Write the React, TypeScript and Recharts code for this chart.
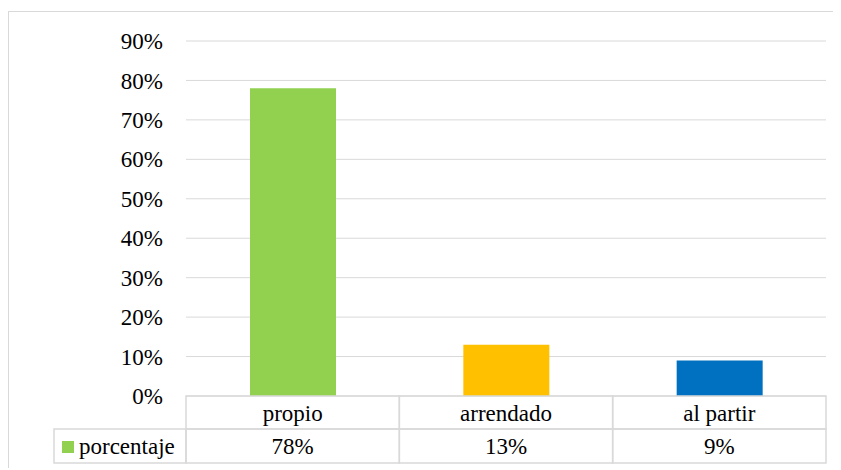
import React from "react";
import { BarChart, Bar, XAxis, YAxis, CartesianGrid, Cell } from "recharts";

const categories = ["propio", "arrendado", "al partir"];
const porcentaje = [0.78, 0.13, 0.09];
const valueLabels = ["78%", "13%", "9%"];
const yTicks = [0, 0.1, 0.2, 0.3, 0.4, 0.5, 0.6, 0.7, 0.8, 0.9];
const seriesName = "porcentaje";

const COLORS = ["#92D050", "#FFC000", "#0070C0"];
const GRID = "#d9d9d9";
const SERIF = "Liberation Serif, Times New Roman, serif";

const data = categories.map((c, i) => ({ name: c, value: porcentaje[i] }));

const W = 832;
const H = 458;
const Y_W = 177;
const PLOT_W = W - 15 - Y_W;
const ROW1 = 33;
const ROW2 = 34;

function TableTick(props: any) {
  const { x, y, payload, index } = props;
  const bw = PLOT_W / categories.length;
  const left = x - bw / 2;
  return (
    <g>
      <rect x={left} y={y} width={bw} height={ROW1} fill="none" stroke={GRID} strokeWidth={1.5} />
      <rect x={left} y={y + ROW1} width={bw} height={ROW2} fill="none" stroke={GRID} strokeWidth={1.5} />
      <text x={x} y={y + ROW1 / 2 + 8} textAnchor="middle" fontFamily={SERIF} fontSize={23} fill="#000">
        {payload.value}
      </text>
      <text x={x} y={y + ROW1 + ROW2 / 2 + 8} textAnchor="middle" fontFamily={SERIF} fontSize={23} fill="#000">
        {valueLabels[index]}
      </text>
      {index === 0 && (
        <g>
          <rect x={left - 132} y={y + ROW1} width={132} height={ROW2} fill="none" stroke={GRID} strokeWidth={1.5} />
          <rect x={left - 124} y={y + ROW1 + 12} width={12} height={12} fill={COLORS[0]} />
          <text x={left - 107} y={y + ROW1 + ROW2 / 2 + 8} textAnchor="start" fontFamily={SERIF} fontSize={23} fill="#000">
            {seriesName}
          </text>
        </g>
      )}
    </g>
  );
}

export default function App() {
  return (
    <div style={{ width: 833, height: 460, overflow: "hidden", fontFamily: SERIF }}>
      <div
        style={{
          position: "relative",
          top: 3,
          width: 845,
          height: H + 2,
          border: "1px solid #d9d9d9",
          boxSizing: "border-box",
        }}
      >
        <BarChart width={W} height={H} data={data} margin={{ top: 29, right: 15, left: 0, bottom: 4 }}>
          <CartesianGrid vertical={false} stroke={GRID} />
          <YAxis
            domain={[0, 0.9]}
            ticks={yTicks}
            width={Y_W}
            axisLine={false}
            tickLine={false}
            tickSize={0}
            tickMargin={23}
            tickFormatter={(v: number) => `${Math.round(v * 100)}%`}
            tick={{ fontFamily: SERIF, fontSize: 23, fill: "#000" }}
          />
          <XAxis
            dataKey="name"
            height={ROW1 + ROW2 + 3}
            axisLine={false}
            tickLine={false}
            tickSize={0}
            tickMargin={0}
            interval={0}
            tick={<TableTick />}
          />
          <Bar dataKey="value" barSize={86} isAnimationActive={false}>
            {data.map((d, i) => (
              <Cell key={d.name} fill={COLORS[i]} />
            ))}
          </Bar>
        </BarChart>
      </div>
    </div>
  );
}
